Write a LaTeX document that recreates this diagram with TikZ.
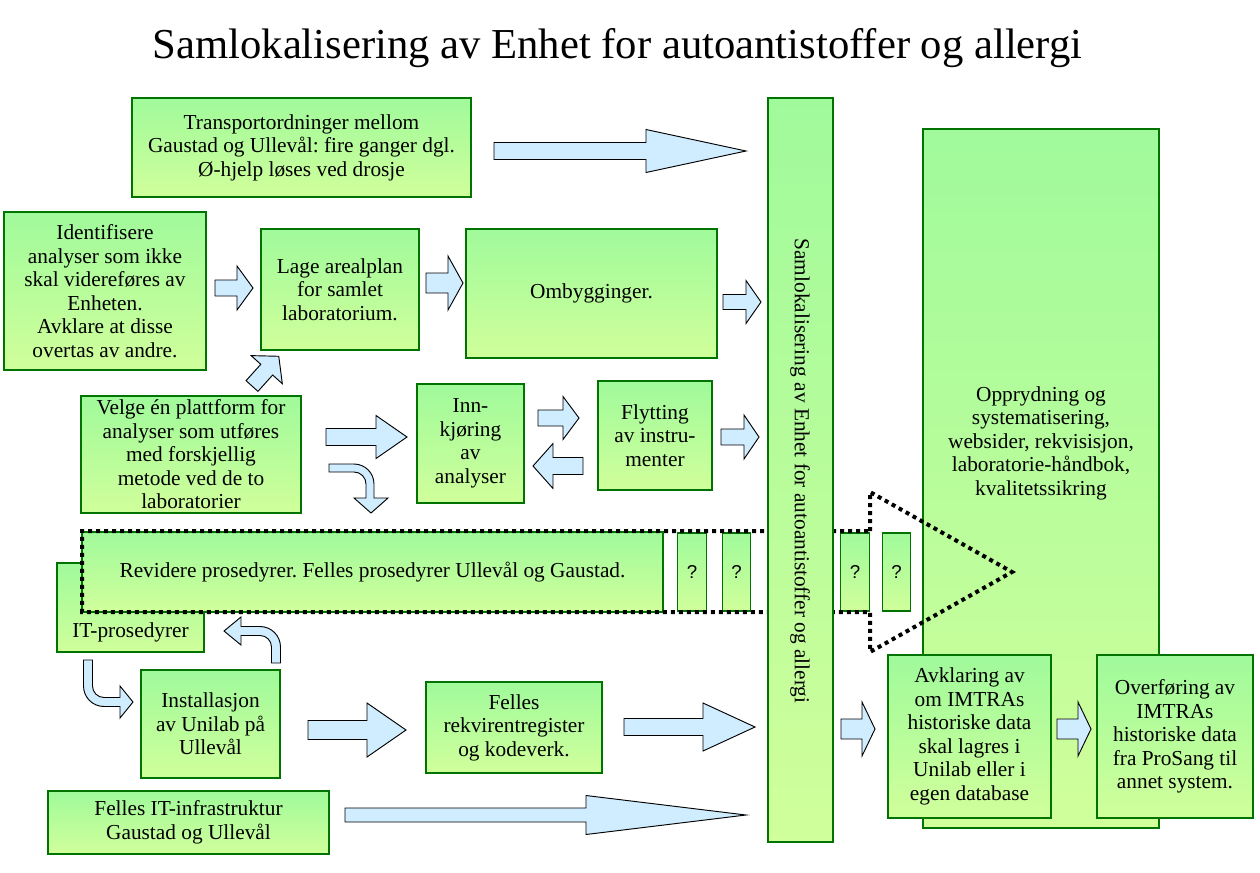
\documentclass[tikz,border=0pt]{standalone}
\usepackage{fontspec}
\setmainfont{Liberation Serif}
\newfontfamily\qfont{Liberation Sans}
\definecolor{gtop}{RGB}{160,250,155}
\definecolor{gbot}{RGB}{208,255,155}
\definecolor{gline}{RGB}{0,115,0}
\definecolor{ablue}{RGB}{208,236,255}
\tikzset{
 box/.style={draw=gline, line width=0.9pt, top color=gtop, bottom color=gbot, inner sep=0pt, align=center, font=\fontsize{16}{17.6}\selectfont},
 bx/.style 2 args={box, minimum width=#1*0.75pt, minimum height=#2*0.75pt},
 qbox/.style={bx={28.5}{78}, font=\qfont\fontsize{14}{16}\selectfont},
 txt/.style={align=center, inner sep=0pt, font=\fontsize{16}{17.6}\selectfont},
 arr/.style={draw=black, line width=0.7pt, fill=ablue, line join=miter},
 dotline/.style={draw=black, line width=3pt, dash pattern=on 3pt off 3pt},
}
\newcommand\harrow[6]{\path[arr] (#1,#2-#4) -- (#6,#2-#4) -- (#6,#2-#5) -- (#3,#2) -- (#6,#2+#5) -- (#6,#2+#4) -- (#1,#2+#4) -- cycle;}
\frenchspacing
\begin{document}
\frenchspacing
\begin{tikzpicture}[x=0.75pt,y=-0.75pt]
\useasboundingbox (0,0) rectangle (1260,872);
\node[font=\fontsize{32}{36}\selectfont, anchor=base, inner sep=0pt] (title) at (617.5,58) {Samlokalisering av Enhet for autoantistoffer og allergi};

% upper boxes
\node[bx={339}{99}] (transport) at (301.5,147.5) {Transportordninger mellom\\Gaustad og Ullevål: fire ganger dgl.\\Ø-hjelp løses ved drosje};
\node[bx={202}{158}] (ident) at (105,291) {Identifisere\\analyser som ikke\\skal videreføres av\\Enheten.\\Avklare at disse\\overtas av andre.};
\node[bx={158}{121}] (lage) at (340,289.5) {Lage arealplan\\for samlet\\laboratorium.};
\node[bx={251}{129}] (omb) at (591.5,293.5) {Ombygginger.};
\node[bx={220}{117}] (velge) at (191,454.5) {Velge én plattform for\\analyser som utføres\\med forskjellig\\metode ved de to\\laboratorier};
\node[bx={107}{119}] (inn) at (470.5,443.5) {Inn-\\kjøring\\av\\analyser};
\node[bx={114}{109}] (flytt) at (655,435.5) {Flytting\\av instru-\\menter};

% big right box
\node[bx={236}{699}] (oppr) at (1041,478.5) {};
\node[txt] (opprtext) at (1041,443) {Opprydning og\\systematisering,\\websider, rekvisisjon,\\laboratorie-håndbok,\\kvalitetssikring};

% IT-prosedyrer behind Revidere
\node[bx={147}{89}] (itp) at (130.5,607.5) {};
\node[txt] (itptext) at (130.5,632) {IT-prosedyrer};

% Revidere and question boxes
\node[bx={581}{80}] (rev) at (372.5,572) {Revidere prosedyrer. Felles prosedyrer Ullevål og Gaustad.};
\node[qbox] (q1) at (692,572) {?};
\node[qbox] (q2) at (736.5,572) {?};
\node[qbox] (q3) at (855,572) {?};
\node[qbox] (q4) at (896.5,572) {?};

% big dotted arrow
\path[dotline] (870,531) -- (870,492) -- (1012,572) -- (870,652) -- (870,612) -- (82,612) -- (82,531) -- cycle;

% vertical bar
\node[bx={65}{744}] (bar) at (800.5,470) {};
\node[rotate=-90, inner sep=0pt, font=\fontsize{16}{18}\selectfont] (bartext) at (800,471) {Samlokalisering av Enhet for autoantistoffer og allergi};

% lower boxes
\node[bx={139}{108}] (inst) at (210.5,724) {Installasjon\\av Unilab på\\Ullevål};
\node[bx={176}{91}] (rekv) at (514,727.5) {Felles\\rekvirentregister\\og kodeverk.};
\node[bx={281}{63}] (infra) at (188.5,822.5) {Felles IT-infrastruktur\\Gaustad og Ullevål};
\node[bx={163}{163}] (avkl) at (969.5,736.5) {Avklaring av\\om IMTRAs\\historiske data\\skal lagres i\\Unilab eller i\\egen database};
\node[bx={156}{163}] (overf) at (1175,736.5) {Overføring av\\IMTRAs\\historiske data\\fra ProSang til\\annet system.};

% straight block arrows: tailx, yc, tipx, shafthalf, headhalf, basex
\harrow{494}{151}{746}{8.5}{21.5}{646}
\harrow{215}{288}{253}{8}{22}{237}
\harrow{426}{283}{463}{10}{27}{448}
\harrow{723}{302}{761}{7.5}{21.5}{746}
\harrow{721}{437}{759}{8}{22}{744}
\harrow{326}{437}{407}{8.5}{21.5}{376}
\harrow{538}{418}{579}{8}{21.5}{563}
\harrow{583}{466}{533}{8.5}{22.5}{553}
\harrow{308}{730}{406}{9.5}{27}{367}
\harrow{624}{727}{755}{8.5}{24}{703}
\harrow{345}{815}{746}{7}{19.5}{586}
\harrow{841}{729}{875}{10}{27}{862}
\harrow{1057}{729}{1091}{10}{27}{1078}

% diagonal arrow
\begin{scope}[shift={(252,386)}, rotate=48]
\path[arr] (0,-8) -- (22,-8) -- (22,-21) -- (40,0) -- (22,21) -- (22,8) -- (0,8) -- cycle;
\end{scope}

% curved arrows
\path[arr] (329,464) -- (354,464) arc[start angle=270, end angle=360, radius=20] -- (374,498) -- (388,498) -- (371,513) -- (354,498) -- (366,498) -- (366,484) arc[start angle=0, end angle=-90, radius=12] -- (329,472) -- cycle;
\path[arr] (271.5,663) -- (271.5,647) arc[start angle=0, end angle=-90, radius=11.5] -- (241,635.5) -- (241,645) -- (224,631) -- (241,617) -- (241,626.5) -- (260,626.5) arc[start angle=-90, end angle=0, radius=20.5] -- (280.5,663) -- cycle;
\path[arr] (83.5,660) -- (83.5,686) arc[start angle=180, end angle=90, radius=20.5] -- (120,706.5) -- (120,718) -- (133,702) -- (120,686) -- (120,697.5) -- (104,697.5) arc[start angle=90, end angle=180, radius=11.5] -- (92.5,660) -- cycle;
\end{tikzpicture}
\end{document}
